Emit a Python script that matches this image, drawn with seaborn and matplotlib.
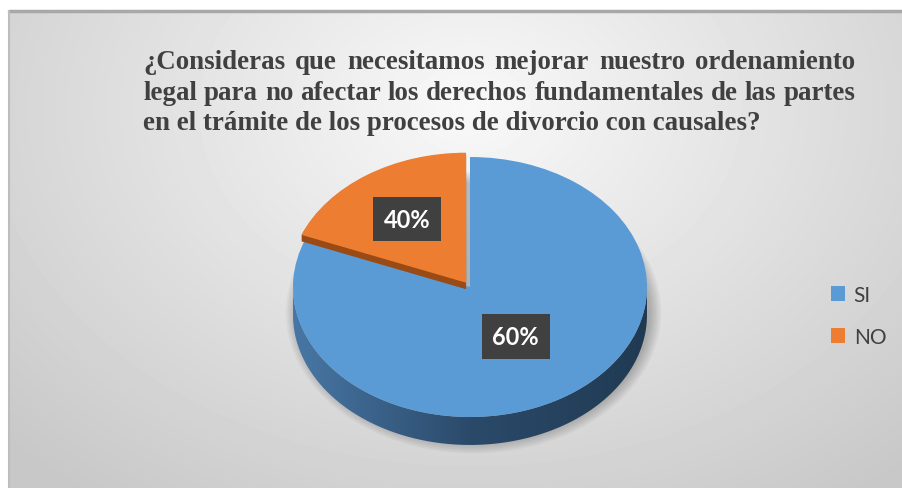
import numpy as np
import matplotlib
matplotlib.use("Agg")
import matplotlib.pyplot as plt
import seaborn as sns
from matplotlib import font_manager
from matplotlib.patches import Patch, PathPatch, Ellipse
from matplotlib.path import Path
from matplotlib.colors import LinearSegmentedColormap

# Data
categories = ["SI", "NO"]
shares = [81, 19]              # slice sizes as drawn
pct_labels = ["60%", "40%"]    # text printed on the slices
title_lines = [
    "¿Consideras que necesitamos mejorar nuestro ordenamiento",
    "legal para no afectar los derechos fundamentales de las partes",
    "en el trámite de los procesos de divorcio con causales?",
]

top_colors = ["#5b9bd5", "#ed7d31"]
cut_color = "#9a4a14"
label_radius = [0.46, 0.59]

sns.set_theme(style="white")
plt.rcParams["font.family"] = ["DejaVu Sans"]

title_font = font_manager.FontProperties(family=["Liberation Serif", "DejaVu Serif"],
                                         weight="bold")

W, H = 902, 489
fig = plt.figure(figsize=(W / 100, H / 100), dpi=100)
fig.patch.set_facecolor("white")


def px_axes(x0, y0, x1, y1):
    return fig.add_axes([x0 / W, 1 - y1 / H, (x1 - x0) / W, (y1 - y0) / H])


# gray chart area with soft radial light
bg = px_axes(9, 12, 902, 489)
yy, xx = np.mgrid[12:489, 9:902]
r = np.hypot(xx - 470, (yy - 110) * 1.35)
shade = 0.975 - 0.19 * np.clip(r / 640, 0, 1)
bg.imshow(shade, cmap="gray", vmin=0, vmax=1, extent=(0, 1, 0, 1), aspect="auto")
bg.plot([0, 1], [1, 1], color="#a8a8a8", lw=2.5, clip_on=False)
bg.plot([0, 0], [0, 1], color="#bdbdbd", lw=1.5, clip_on=False)
bg.set_xlim(0, 1)
bg.set_ylim(0, 1)
bg.axis("off")

# pie area: data unit circle becomes the ellipse of the tilted pie
ax = px_axes(275.3, 145, 664.7, 457)
depth = 0.215
explode = [0, 0.04]

# soft shadow under the pie
for s in np.linspace(0.0, 0.12, 7):
    ax.add_patch(Ellipse((0.02, -depth + 0.02), 2.0 + s, 2.0 + s * 1.4,
                         facecolor="black", edgecolor="none", alpha=0.035, zorder=0.5))

# side of the pie (front rim) with a left-to-right shade
t = np.linspace(np.pi, 2 * np.pi, 200)
rim = np.concatenate([np.c_[np.cos(t), np.sin(t)],
                      np.c_[np.cos(t[::-1]), np.sin(t[::-1]) - depth]])
rim_patch = PathPatch(Path(rim, closed=True), facecolor="none", edgecolor="none")
ax.add_patch(rim_patch)
rim_cmap = LinearSegmentedColormap.from_list("rim", ["#4877a5", "#2b4a6a", "#203a52"])
grad = ax.imshow(np.linspace(0, 1, 256)[None, :], cmap=rim_cmap,
                 extent=(-1, 1, -1 - depth, 0.05), aspect="auto", zorder=1)
grad.set_clip_path(rim_patch)

pie_kw = dict(startangle=90, counterclock=False, explode=explode,
              wedgeprops=dict(linewidth=0))

blue_top, _ = ax.pie(shares, colors=[top_colors[0], "none"], **pie_kw)
for w in blue_top:
    w.set_zorder(2)

for d in np.linspace(0.005, 0.05, 8):
    cut, _ = ax.pie(shares, colors=["none", cut_color], center=(0, -d), **pie_kw)
    for w in cut:
        w.set_zorder(3)

wedges, _ = ax.pie(shares, colors=["none", top_colors[1]], **pie_kw)
for w in wedges:
    w.set_zorder(4)

# data labels in dark boxes
for w, lab, rad, ex in zip(wedges, pct_labels, label_radius, explode):
    mid = np.deg2rad((w.theta1 + w.theta2) / 2)
    ax.text((rad + ex) * np.cos(mid), (rad + ex) * np.sin(mid), lab,
            ha="center", va="center", color="white", fontsize=17,
            fontweight="bold", family=["Lato", "DejaVu Sans"], zorder=6,
            bbox=dict(boxstyle="square,pad=0.45", facecolor="#404040",
                      edgecolor="none"))

ax.set_aspect("auto")
ax.set_xlim(-1.1, 1.1)
ax.set_ylim(-1.3, 1.1)
ax.axis("off")

# legend
handles = [Patch(facecolor=c, edgecolor="none", label=l)
           for c, l in zip(top_colors, categories)]
fig.legend(handles=handles, loc="center left", bbox_to_anchor=(812 / W, 1 - 317 / H),
           frameon=False, prop=dict(family="Lato", size=15), labelcolor="#404040",
           handlelength=0.7, handleheight=0.7, labelspacing=1.05, handletextpad=0.4)

# title, justified like the original text box
renderer = fig.canvas.get_renderer()
probe = fig.text(0, 0, title_lines[1], fontproperties=title_font)
probe.set_fontsize(10)
w10 = probe.get_window_extent(renderer).width
probe.remove()
title_font.set_size(10 * 712 / w10)

left, right = 143, 855
baselines = [69, 99.5, 130]
for i, (line, yb) in enumerate(zip(title_lines, baselines)):
    if i == len(title_lines) - 1:
        fig.text(left / W, 1 - yb / H, line, fontproperties=title_font,
                 color="#404040", va="baseline")
        continue
    words = line.split(" ")
    objs = [fig.text(0, 1 - yb / H, wd, fontproperties=title_font,
                     color="#404040", va="baseline") for wd in words]
    widths = [o.get_window_extent(renderer).width for o in objs]
    gap = (right - left - sum(widths)) / (len(words) - 1)
    x = left
    for o, wd in zip(objs, widths):
        o.set_x(x / W)
        x += wd + gap

fig.savefig("out.png", dpi=100)
